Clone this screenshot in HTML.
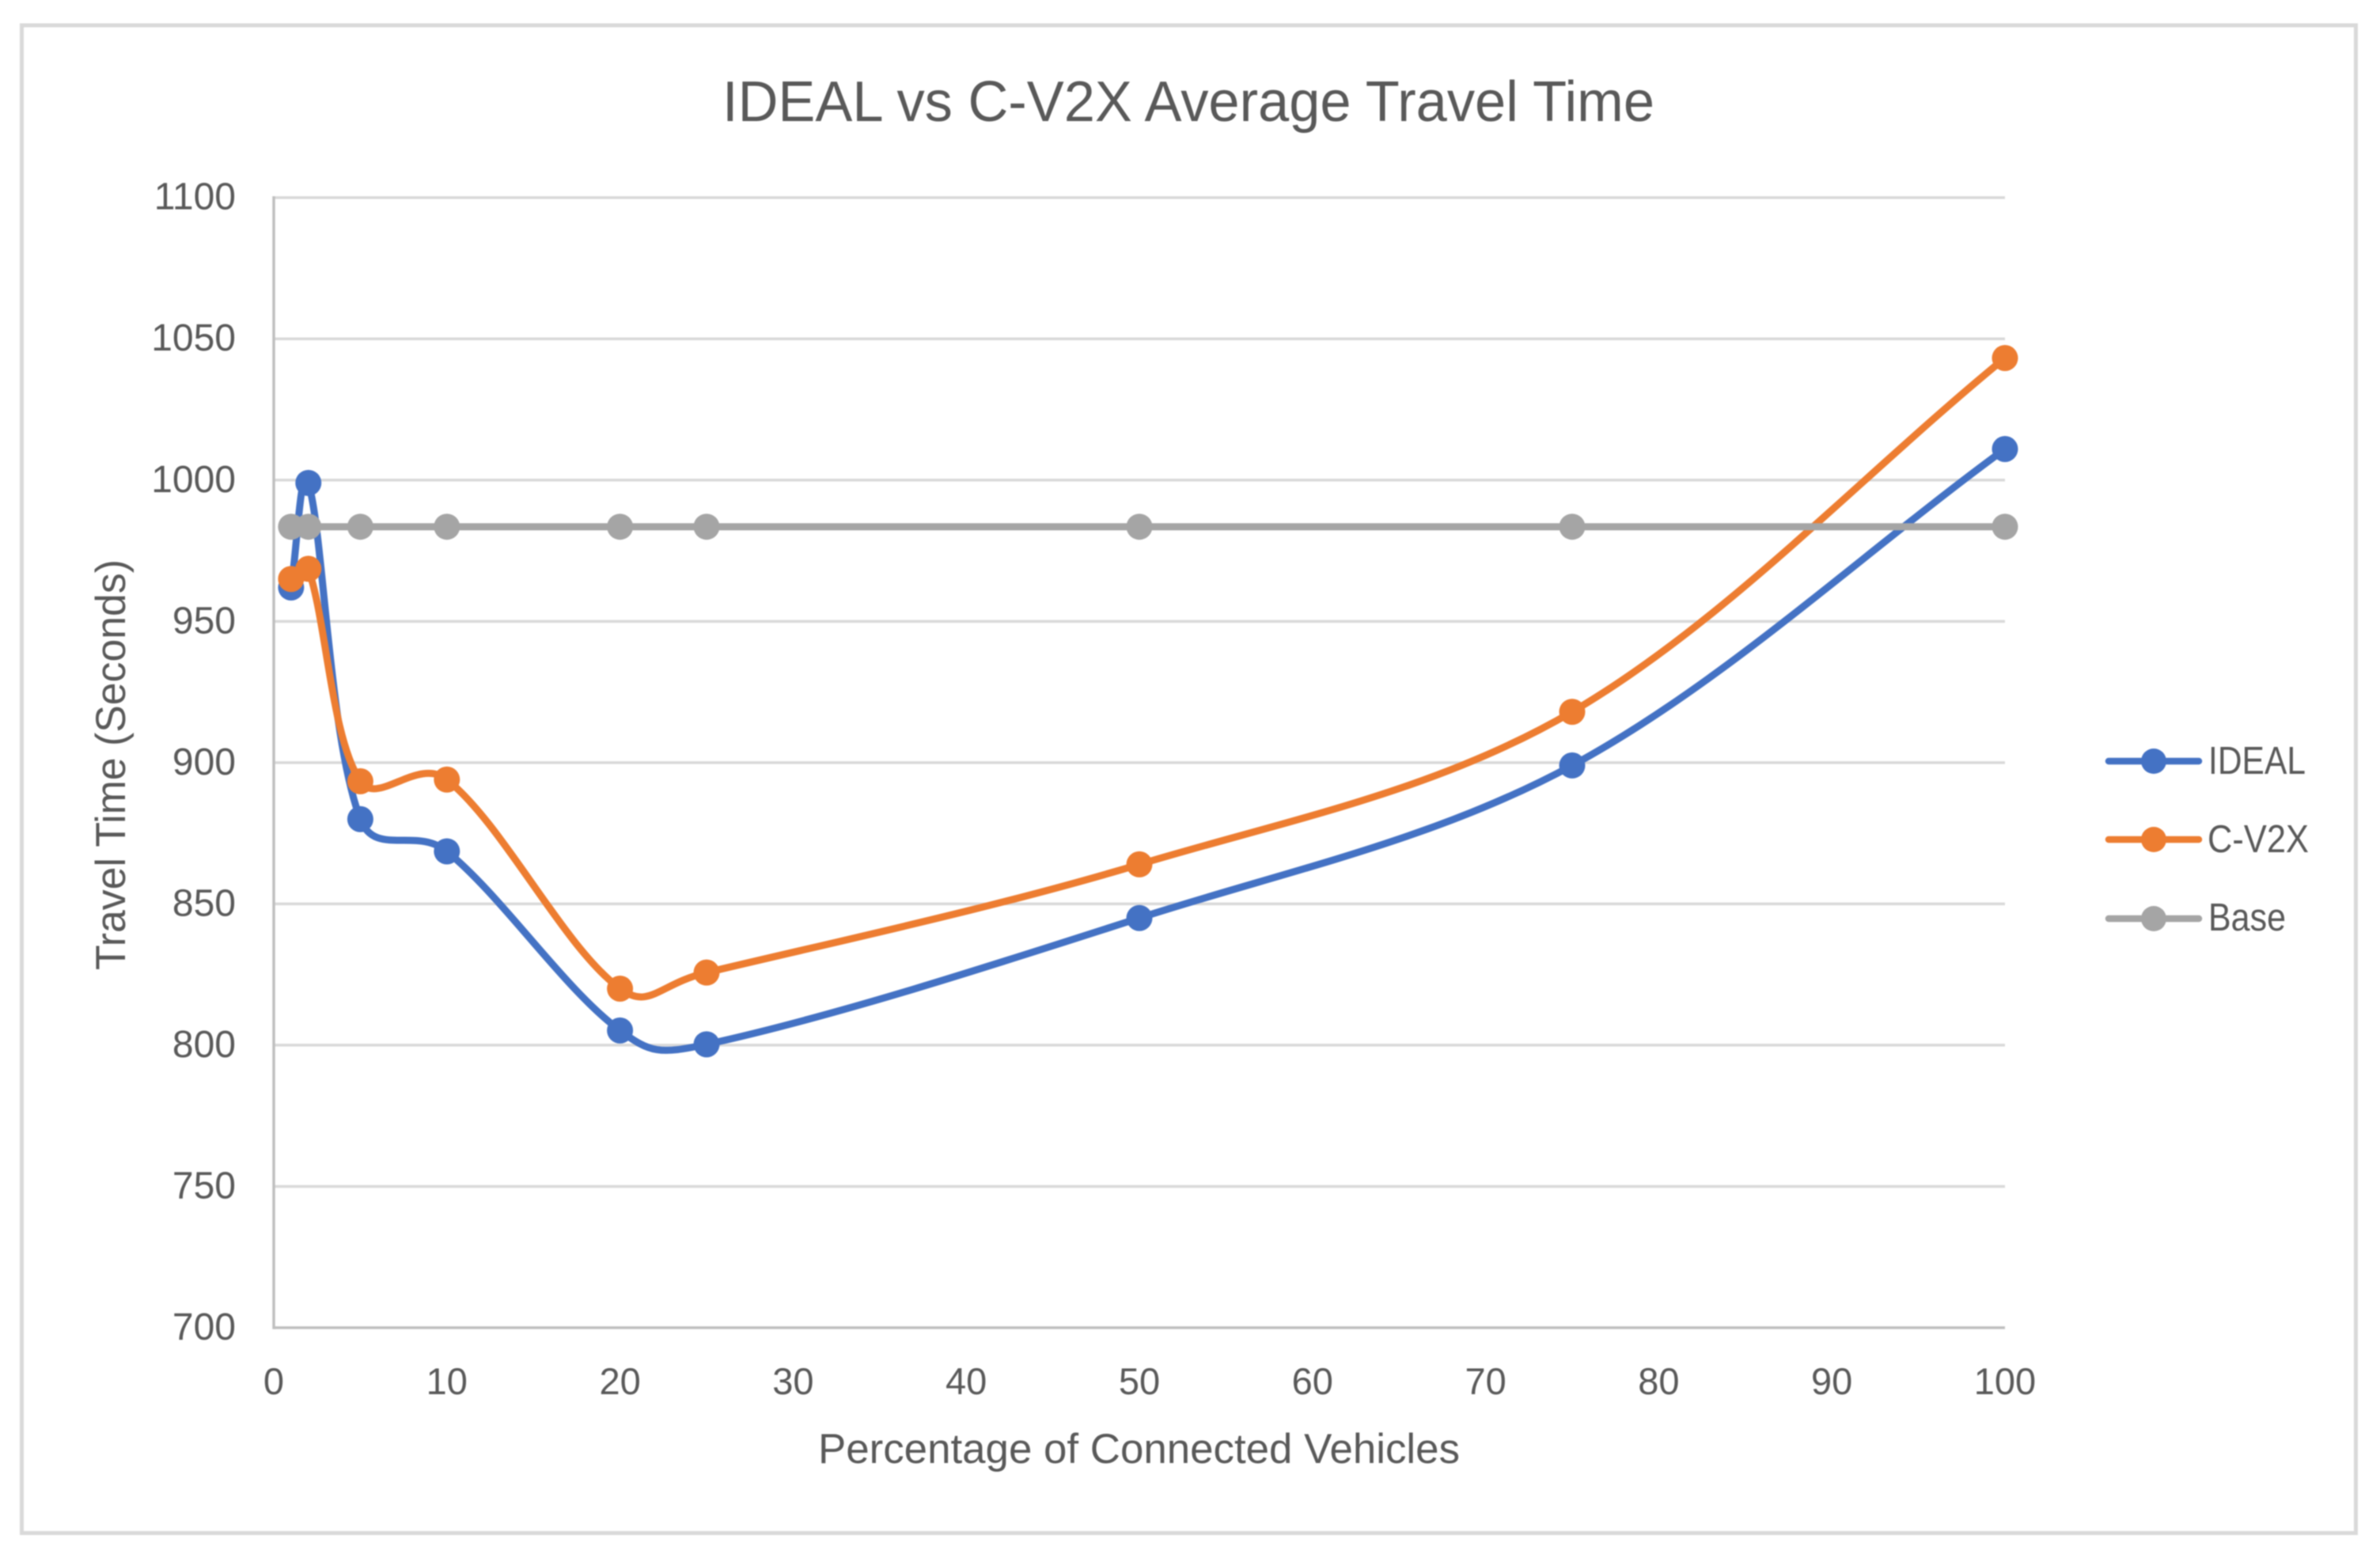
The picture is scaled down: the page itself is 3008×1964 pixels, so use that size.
<!DOCTYPE html>
<html lang="en">
<head>
<meta charset="utf-8">
<title>IDEAL vs C-V2X Average Travel Time</title>
<style>
html,body{margin:0;padding:0;background:#fff;}
svg{display:block;filter:blur(0.7px);}
text{font-family:"Liberation Sans",sans-serif;fill:#595959;}
</style>
</head>
<body>
<svg id="chart" xmlns="http://www.w3.org/2000/svg" width="3008" height="1964" viewBox="0 0 3008 1964">
  <rect x="0" y="0" width="3008" height="1964" fill="#ffffff"/>
  <rect x="27.5" y="32" width="2950" height="1905.5" fill="#ffffff" stroke="#D9D9D9" stroke-width="5"/>
  <text x="913" y="153" font-size="72" textLength="1178" lengthAdjust="spacingAndGlyphs">IDEAL vs C-V2X Average Travel Time</text>
  <text transform="translate(158 1226) rotate(-90)" x="0" y="0" font-size="53" textLength="519" lengthAdjust="spacingAndGlyphs">Travel Time (Seconds)</text>
  <text x="1034" y="1849" font-size="53" textLength="811" lengthAdjust="spacingAndGlyphs">Percentage of Connected Vehicles</text>
  <g id="grid"></g>
  <g id="axes"></g>
  <g id="y-ticks"></g>
  <g id="x-ticks"></g>
  <g id="series"></g>
  <g>
    <g>
      <line x1="2665" y1="962" x2="2779" y2="962" stroke="#4472C4" stroke-width="8.5" stroke-linecap="round"/>
      <circle cx="2722" cy="962" r="16" fill="#4472C4"/>
      <text x="2791" y="978" font-size="49" textLength="123" lengthAdjust="spacingAndGlyphs">IDEAL</text>
    </g>
    <g>
      <line x1="2665" y1="1061" x2="2779" y2="1061" stroke="#ED7D31" stroke-width="8.5" stroke-linecap="round"/>
      <circle cx="2722" cy="1061" r="16" fill="#ED7D31"/>
      <text x="2790" y="1077" font-size="49" textLength="128" lengthAdjust="spacingAndGlyphs">C-V2X</text>
    </g>
    <g>
      <line x1="2665" y1="1161" x2="2779" y2="1161" stroke="#A5A5A5" stroke-width="8.5" stroke-linecap="round"/>
      <circle cx="2722" cy="1161" r="16" fill="#A5A5A5"/>
      <text x="2791" y="1176" font-size="49" textLength="98" lengthAdjust="spacingAndGlyphs">Base</text>
    </g>
  </g>
</svg>
<script>
// Chart data
const xValues = [1, 2, 5, 10, 20, 25, 50, 75, 100];
const idealValues = [962, 999, 880, 868.6, 805.2, 800.3, 845, 899, 1011];
const cv2xValues = [965, 968.6, 893.4, 894, 820, 825.7, 864, 918, 1043.2];
const baseValues = [983.5, 983.5, 983.5, 983.5, 983.5, 983.5, 983.5, 983.5, 983.5];
const yTickLabels = [700, 750, 800, 850, 900, 950, 1000, 1050, 1100];
const xTickLabels = [0, 10, 20, 30, 40, 50, 60, 70, 80, 90, 100];

const NS = 'http://www.w3.org/2000/svg';
const plotLeft = 346, plotRight = 2534, plotTop = 249.7, plotBottom = 1678;
const xMin = 0, xMax = 100, yMin = 700, yMax = 1100;

function xPos(v) { return plotLeft + (v - xMin) / (xMax - xMin) * (plotRight - plotLeft); }
function yPos(v) { return plotBottom - (v - yMin) / (yMax - yMin) * (plotBottom - plotTop); }
function make(tag) { return document.createElementNS(NS, tag); }

// Excel-style smoothed line through points
function smoothPath(pts) {
  function dist(a, b) { return Math.pow(Math.hypot(b[0] - a[0], b[1] - a[1]), 0.6); }
  let d = 'M' + pts[0][0].toFixed(2) + ' ' + pts[0][1].toFixed(2);
  for (let i = 0; i < pts.length - 1; i++) {
    const p0 = pts[Math.max(i - 1, 0)], p1 = pts[i], p2 = pts[i + 1], p3 = pts[Math.min(i + 2, pts.length - 1)];
    const a = dist(p0, p1), b = dist(p1, p2), c = dist(p2, p3);
    const t1 = b / (a + b) / 3;
    const t2 = b / (b + c) / 3;
    const c1x = p1[0] + (p2[0] - p0[0]) * t1, c1y = p1[1] + (p2[1] - p0[1]) * t1;
    const c2x = p2[0] - (p3[0] - p1[0]) * t2, c2y = p2[1] - (p3[1] - p1[1]) * t2;
    d += ' C' + c1x.toFixed(2) + ' ' + c1y.toFixed(2) + ' ' + c2x.toFixed(2) + ' ' + c2y.toFixed(2) + ' ' + p2[0].toFixed(2) + ' ' + p2[1].toFixed(2);
  }
  return d;
}

const gridGroup = document.getElementById('grid');
yTickLabels.forEach(function (tick) {
  if (tick === yMin) return;
  const ln = make('line');
  
  
  ln.setAttribute('x1', plotLeft);
  ln.setAttribute('x2', plotRight);
  ln.setAttribute('y1', yPos(tick));
  ln.setAttribute('y2', yPos(tick));
  ln.setAttribute('stroke', '#D9D9D9');
  ln.setAttribute('stroke-width', '3.5');
  gridGroup.appendChild(ln);
});

const axesGroup = document.getElementById('axes');
const yAxisLine = make('line');


yAxisLine.setAttribute('x1', plotLeft);
yAxisLine.setAttribute('x2', plotLeft);
yAxisLine.setAttribute('y1', plotTop - 1.75);
yAxisLine.setAttribute('y2', plotBottom + 1.75);
yAxisLine.setAttribute('stroke', '#BFBFBF');
yAxisLine.setAttribute('stroke-width', '3.5');
axesGroup.appendChild(yAxisLine);
const xAxisLine = make('line');


xAxisLine.setAttribute('x1', plotLeft);
xAxisLine.setAttribute('x2', plotRight);
xAxisLine.setAttribute('y1', plotBottom);
xAxisLine.setAttribute('y2', plotBottom);
xAxisLine.setAttribute('stroke', '#BFBFBF');
xAxisLine.setAttribute('stroke-width', '3.5');
axesGroup.appendChild(xAxisLine);

const yTickGroup = document.getElementById('y-ticks');
yTickLabels.forEach(function (tick) {
  const t = make('text');
  
  
  t.setAttribute('x', 298);
  t.setAttribute('y', yPos(tick) + 15);
  t.setAttribute('font-size', '48');
  t.setAttribute('text-anchor', 'end');
  t.textContent = tick;
  yTickGroup.appendChild(t);
});

const xTickGroup = document.getElementById('x-ticks');
xTickLabels.forEach(function (tick) {
  const t = make('text');
  
  
  t.setAttribute('x', xPos(tick));
  t.setAttribute('y', 1762);
  t.setAttribute('font-size', '47');
  t.setAttribute('text-anchor', 'middle');
  t.textContent = tick;
  xTickGroup.appendChild(t);
});

const seriesGroup = document.getElementById('series');
function drawSeries(name, values, color) {
  const pts = values.map(function (v, i) { return [xPos(xValues[i]), yPos(v)]; });
  const g = make('g');
  
  
  const path = make('path');
  
  
  path.setAttribute('d', smoothPath(pts));
  path.setAttribute('fill', 'none');
  path.setAttribute('stroke', color);
  path.setAttribute('stroke-width', '9');
  path.setAttribute('stroke-linecap', 'round');
  path.setAttribute('stroke-linejoin', 'round');
  g.appendChild(path);
  pts.forEach(function (p, i) {
    const c = make('circle');
    
    
    c.setAttribute('cx', p[0]);
    c.setAttribute('cy', p[1]);
    c.setAttribute('r', '16.5');
    c.setAttribute('fill', color);
    g.appendChild(c);
  });
  seriesGroup.appendChild(g);
}
drawSeries('ideal', idealValues, '#4472C4');
drawSeries('c-v2x', cv2xValues, '#ED7D31');
drawSeries('base', baseValues, '#A5A5A5');
</script>
</body>
</html>
